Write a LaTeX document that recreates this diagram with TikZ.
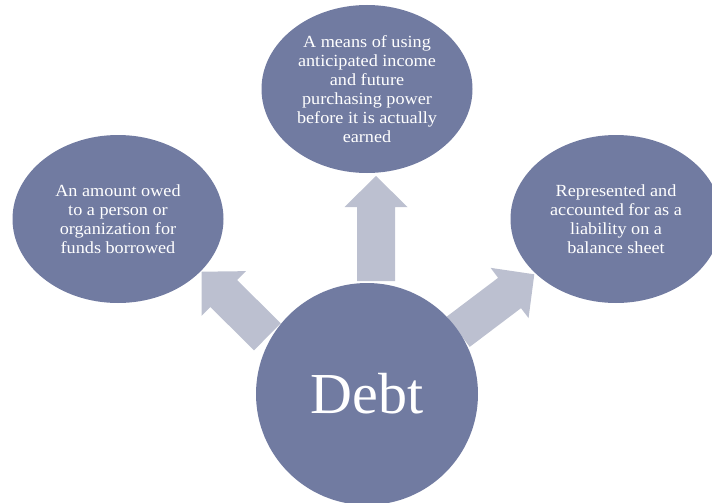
\documentclass[tikz,border=0pt]{standalone}
\usepackage{fontspec}
\setmainfont{Liberation Serif}
\newfontfamily\bubblefont[FakeStretch=1.07]{Liberation Serif}
\usetikzlibrary{shapes.geometric,calc}
\definecolor{bubblefill}{RGB}{113,123,161}
\definecolor{arrowfillc}{RGB}{188,192,208}
\tikzset{
  bubble/.style={ellipse, fill=bubblefill, draw=none, inner sep=0pt,
    minimum width=211pt, minimum height=168pt, text=white, align=center,
    font=\bubblefont\fontsize{17}{19}\selectfont},
  hub/.style={circle, fill=bubblefill, draw=none, inner sep=0pt,
    minimum size=222pt, text=white, font=\fontsize{58}{60}\selectfont},
  arrowfill/.style={fill=arrowfillc}
}
\newcommand\blockarrow[2]{%
  \path ($(#2)!31pt!(#1)$) coordinate (hb);
  \fill[arrowfill] ($(#1)!19pt!90:(#2)$) -- ($(hb)!19pt!-90:(#1)$)
    -- ($(hb)!31.5pt!-90:(#1)$) -- (#2) -- ($(hb)!31.5pt!90:(#1)$)
    -- ($(hb)!19pt!90:(#1)$) -- ($(#1)!19pt!-90:(#2)$) -- cycle;}
\begin{document}
\begin{tikzpicture}[x=1pt,y=-1pt]
\useasboundingbox (0,0) rectangle (712,503);
\clip (0,0) rectangle (712,503);
\node[bubble] (top) at (367,89) {A means of using\\anticipated income\\and future\\purchasing power\\before it is actually\\earned};
\node[bubble] (left) at (118,219) {An amount owed\\to a person or\\organization for\\funds borrowed};
\node[bubble] (right) at (616,219) {Represented and\\accounted for as a\\liability on a\\balance sheet};
\coordinate (upS) at (376,281);
\coordinate (upT) at (376,176);
\coordinate (leftS) at (267.4,336.8);
\coordinate (leftT) at (201.7,271.7);
\coordinate (rightS) at (458.3,331.7);
\coordinate (rightT) at (534.3,274.3);
\blockarrow{upS}{upT}
\blockarrow{leftS}{leftT}
\blockarrow{rightS}{rightT}
\node[hub] (debt) at (367,394) {\raisebox{2pt}{Debt}};
\end{tikzpicture}
\end{document}
